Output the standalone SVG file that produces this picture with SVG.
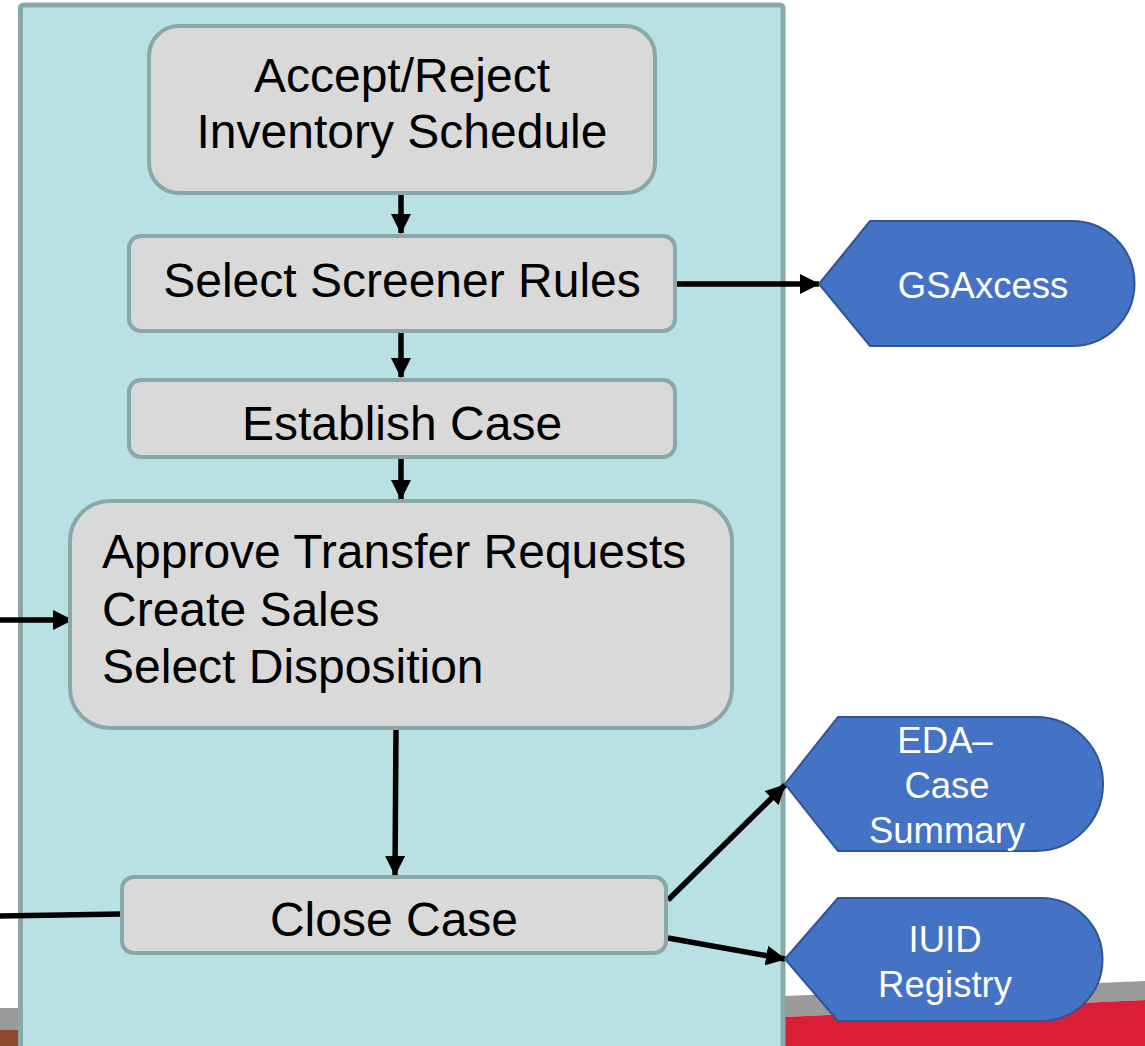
<svg xmlns="http://www.w3.org/2000/svg" width="1145" height="1046" viewBox="0 0 1145 1046">
<style>
.proc{fill:#D9D9D9;stroke:#8AA8A8;stroke-width:4}
.ext{fill:#4472C4;stroke:#2F5597;stroke-width:2}
.t{font-family:"Liberation Sans",Arial,sans-serif;font-size:48px;fill:#000}
.w{font-family:"Liberation Sans",Arial,sans-serif;font-size:36.5px;fill:#fff;text-anchor:middle}
.c{stroke:#000;stroke-width:5.5;fill:none}
</style>
<defs>
<marker id="ah" markerUnits="userSpaceOnUse" markerWidth="20" markerHeight="20" refX="19" refY="10" orient="auto">
<path d="M0,0 L20,10 L0,20 z" fill="#000"/>
</marker>
</defs>
<rect width="1145" height="1046" fill="#fff"/>
<g id="background-bands">
<polygon points="0,1008 22,1008 22,1030 0,1030" fill="#9A9A9A"/>
<polygon points="0,1030 22,1030 22,1046 0,1046" fill="#8B4A2F"/>
<polygon points="785,996 1145,981 1145,1000 785,1017" fill="#9A9A9A"/>
<polygon points="785,1017 1145,1000 1145,1046 785,1046" fill="#D91E36"/>
</g>
<g id="lane">
<rect x="20.5" y="5" width="762.5" height="1070" rx="3" fill="#B9E0E2" stroke="#8AA8A8" stroke-width="5"/>
</g>
<g id="connectors">
<line class="c" x1="401" y1="193" x2="401" y2="233" marker-end="url(#ah)"/>
<line class="c" x1="401" y1="331" x2="401" y2="377" marker-end="url(#ah)"/>
<line class="c" x1="401" y1="457" x2="401" y2="499" marker-end="url(#ah)"/>
<line class="c" x1="396" y1="728" x2="395" y2="875" marker-end="url(#ah)"/>
<line class="c" x1="675" y1="284" x2="819" y2="284" marker-end="url(#ah)"/>
<line class="c" x1="0" y1="620" x2="72" y2="620" marker-end="url(#ah)"/>
<line class="c" x1="0" y1="916" x2="122" y2="914"/>
<line class="c" x1="668" y1="900" x2="785" y2="785" marker-end="url(#ah)"/>
<line class="c" x1="668" y1="938" x2="785" y2="959" marker-end="url(#ah)"/>
</g>
<g id="accept-reject">
<rect class="proc" x="149" y="26" width="506" height="167" rx="30"/>
<text class="t" x="402" y="92" text-anchor="middle">Accept/Reject</text>
<text class="t" x="402" y="148" text-anchor="middle">Inventory Schedule</text>
</g>
<g id="select-screener">
<rect class="proc" x="129" y="236" width="546" height="95" rx="12"/>
<text class="t" x="402" y="297" text-anchor="middle">Select Screener Rules</text>
</g>
<g id="establish-case">
<rect class="proc" x="129" y="380" width="546" height="77" rx="12"/>
<text class="t" x="402" y="440" text-anchor="middle">Establish Case</text>
</g>
<g id="approve">
<rect class="proc" x="70" y="501" width="662" height="227" rx="40"/>
<text class="t" x="102" y="568">Approve Transfer Requests</text>
<text class="t" x="102" y="626">Create Sales</text>
<text class="t" x="102" y="683">Select Disposition</text>
</g>
<g id="close-case">
<rect class="proc" x="122" y="877" width="544" height="76" rx="12"/>
<text class="t" x="394" y="936" text-anchor="middle">Close Case</text>
</g>
<g id="gsaxcess">
<path class="ext" d="M819,284 L870,221 L1072,221 A62.5,62.5 0 0 1 1072,346 L870,346 Z"/>
<text class="w" x="983" y="298">GSAxcess</text>
</g>
<g id="eda">
<path class="ext" d="M785,784 L838,717 L1036,717 A67,67 0 0 1 1036,851 L838,851 Z"/>
<text class="w" x="945" y="753">EDA–</text>
<text class="w" x="947" y="798">Case</text>
<text class="w" x="947" y="843">Summary</text>
</g>
<g id="iuid">
<path class="ext" d="M785,959 L838,898 L1041,898 A61.5,61.5 0 0 1 1041,1021 L838,1021 Z"/>
<text class="w" x="945" y="952">IUID</text>
<text class="w" x="945" y="997">Registry</text>
</g>
</svg>
